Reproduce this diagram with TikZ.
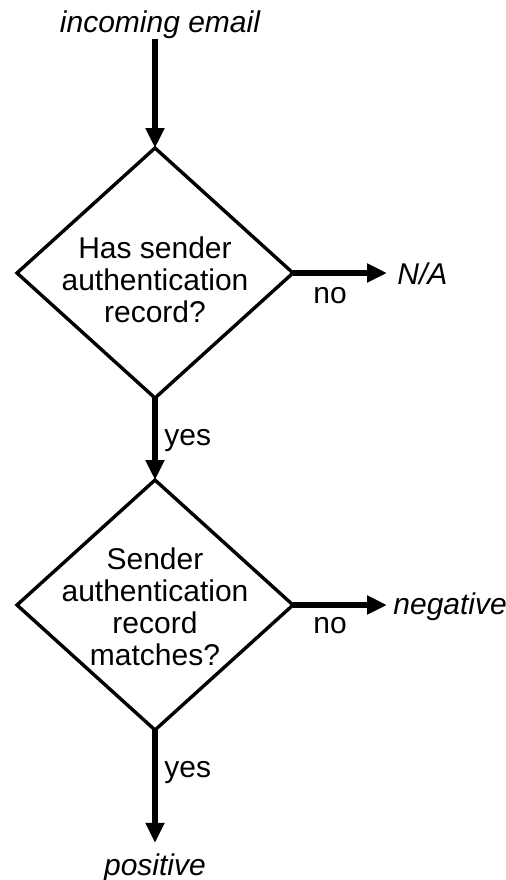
\documentclass[tikz,border=0pt]{standalone}
\usepackage{fontspec}
\setmainfont{Liberation Sans}
\usetikzlibrary{shapes.geometric, arrows.meta}

\begin{document}
\begin{tikzpicture}[x=0.5pt, y=-0.5pt,
  decision/.style={diamond, draw=black, line width=1.7pt, minimum width=138pt, minimum height=125pt, inner sep=0pt, outer sep=0pt},
  question/.style={align=center, inner sep=0pt, font=\fontsize{15pt}{16pt}\selectfont},
  result/.style={inner sep=0pt, font=\fontsize{15pt}{16pt}\selectfont\itshape},
  answer/.style={inner sep=0pt, font=\fontsize{15pt}{16pt}\selectfont},
  flow/.style={line width=3.2pt, -{Triangle[length=10pt, width=9pt]}}]
\useasboundingbox (0, 0) rectangle (506, 880);
% boxes
\node[decision] (hasrec) at (155, 273) {};
\node[question] (hasrectxt) at (155, 280) {Has sender\\authentication\\record?};
\node[decision] (match) at (155, 605) {};
\node[question] (matchtxt) at (155, 607) {Sender\\authentication\\record\\matches?};
% end points
\node[result, anchor=base] (incoming) at (160, 32) {incoming email};
\node[result, anchor=base west] (na) at (397, 284) {N/A};
\node[result, anchor=base west] (neg) at (393, 614) {negative};
\node[result, anchor=base] (pos) at (155, 875) {positive};
% labels
\node[answer, anchor=base west] (no1) at (313, 303) {no};
\node[answer, anchor=base west] (yes1) at (164, 445) {yes};
\node[answer, anchor=base west] (no2) at (313, 633) {no};
\node[answer, anchor=base west] (yes2) at (164, 777) {yes};
% arrows
\draw[flow] (incoming.south -| hasrec.north) -- (hasrec.north);
\draw[flow, shorten >=5pt] (hasrec.east) -- (hasrec.east -| na.west);
\draw[flow] (hasrec.south) -- (match.north);
\draw[flow, shorten >=3pt] (match.east) -- (match.east -| neg.west);
\draw[flow, shorten >=5pt] (match.south) -- (pos.north);
\end{tikzpicture}
\end{document}
